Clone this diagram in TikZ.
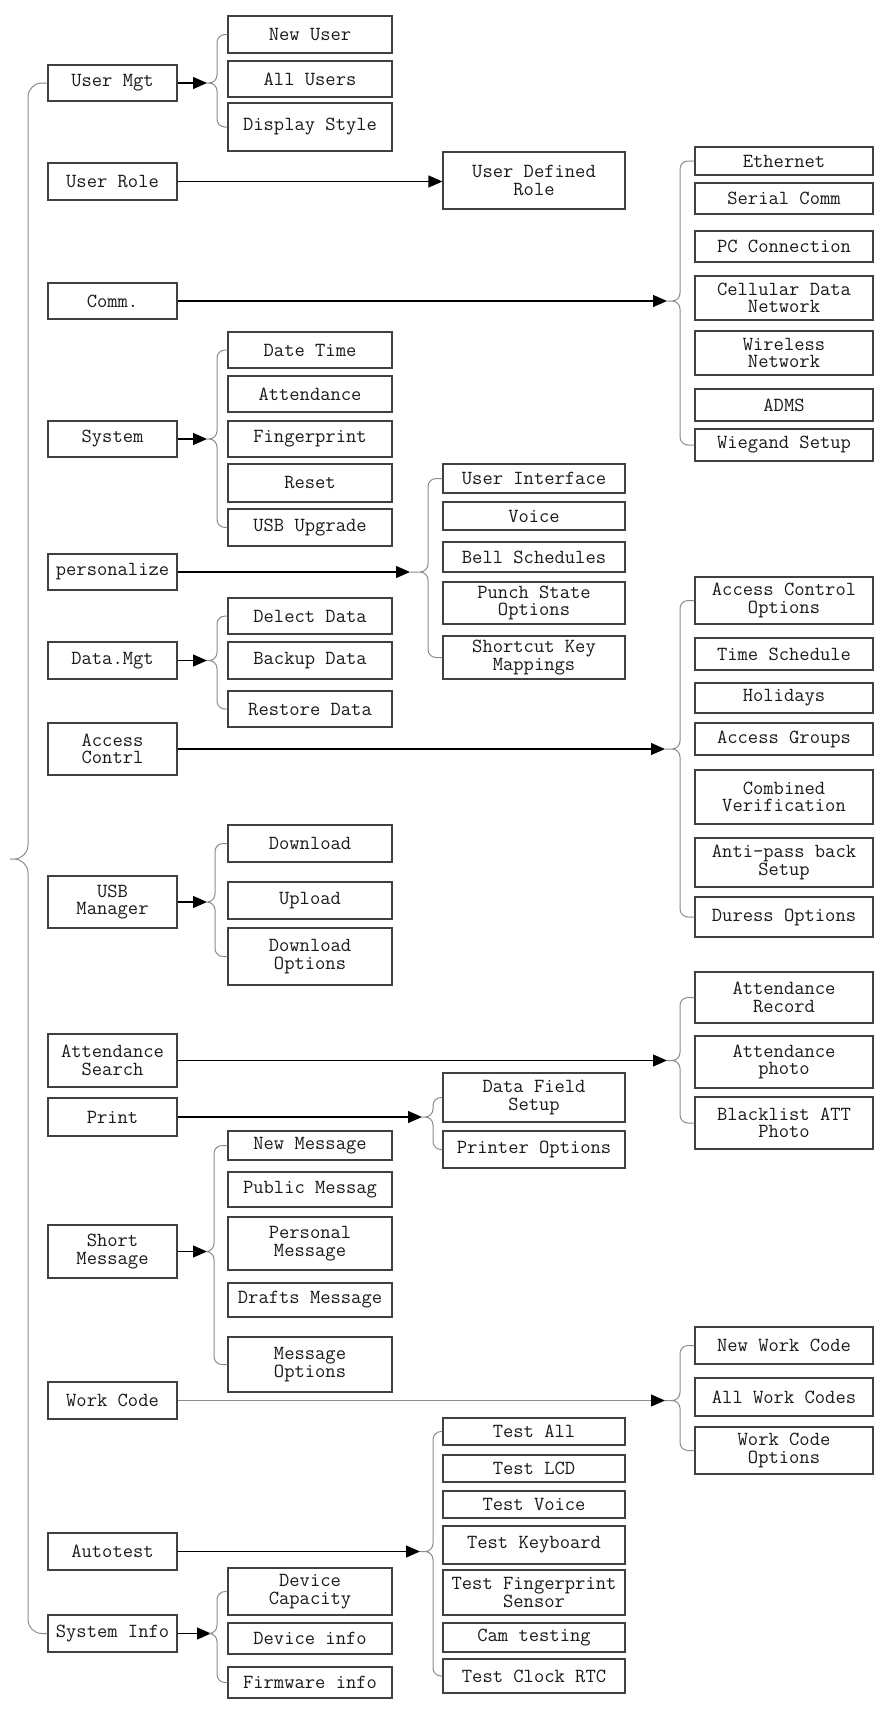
\documentclass[tikz,border=0pt]{standalone}
\usetikzlibrary{arrows.meta}

\begin{document}
\begin{tikzpicture}[x=1pt, y=1pt,
        % Define the styles for the boxes, arrows and braces
        box/.style={draw=black!75, line width=1.2pt, inner sep=0pt, align=center, text=black!90,
            font=\ttfamily\fontsize{20}{17.5}\selectfont},
        main/.style={box, minimum width=129pt, minimum height=#1},
        sub/.style={box, minimum width=164pt, minimum height=#1},
        mid/.style={box, minimum width=182pt, minimum height=#1},
        far/.style={box, minimum width=178pt, minimum height=#1},
        arr/.style={line width=1.2pt, -{Triangle[length=14pt, width=12pt, color=black]}},
        brace/.style={draw=black!45, line width=1pt, rounded corners=8pt}]

        \useasboundingbox (0,0) rectangle (887,-1709);

        % 1. The main menu items
        \node[main=36pt] (um)  at (112.5,-83)    {User Mgt};
        \node[main=37pt] (ur)  at (112.5,-181.5) {User Role};
        \node[main=36pt] (cm)  at (112.5,-301)   {Comm.};
        \node[main=36pt] (sy)  at (112.5,-439)   {System};
        \node[main=36pt] (pz)  at (112.5,-572)   {personalize};
        \node[main=37pt] (dm)  at (112.5,-660.5) {Data.Mgt};
        \node[main=52pt] (ac)  at (112.5,-749)   {Access\\Contrl};
        \node[main=52pt] (usb) at (112.5,-902)   {USB\\Manager};
        \node[main=53pt] (as)  at (112.5,-1060.5) {Attendance\\Search};
        \node[main=38pt] (pr)  at (112.5,-1117)  {Print};
        \node[main=53pt] (smg) at (112.5,-1251.5) {Short\\Message};
        \node[main=37pt] (wc)  at (112.5,-1400.5) {Work Code};
        \node[main=37pt] (at)  at (112.5,-1551.5) {Autotest};
        \node[main=37pt] (si)  at (112.5,-1633.5) {System Info};

        % 2. Sub menus next to the main column
        \node[sub=37pt] (nu)  at (310,-34.5)  {New User};
        \node[sub=36pt] (au)  at (310,-79)    {All Users};
        \node[sub=48pt] (dst) at (310,-127)   {Display Style};

        \node[sub=36pt] (dt)  at (310,-350)   {Date Time};
        \node[sub=36pt] (atd) at (310,-394)   {Attendance};
        \node[sub=36pt] (fp)  at (310,-439)   {Fingerprint};
        \node[sub=38pt] (rs)  at (310,-483)   {Reset};
        \node[sub=37pt] (uu)  at (310,-527.5) {USB Upgrade};

        \node[sub=36pt] (dd)  at (310,-616)   {Delect Data};
        \node[sub=37pt] (bd)  at (310,-660.5) {Backup Data};
        \node[sub=36pt] (rd)  at (310,-709)   {Restore Data};

        \node[sub=37pt] (dl)  at (310,-843.5) {Download};
        \node[sub=37pt] (ul)  at (310,-900.5) {Upload};
        \node[sub=57pt] (dlo) at (310,-956.5) {Download\\Options};

        \node[sub=29pt] (nm)  at (310,-1145.5) {New Message};
        \node[sub=35pt] (pm)  at (310,-1189.5) {Public Messag};
        \node[sub=53pt] (psm) at (310,-1243.5) {Personal\\Message};
        \node[sub=34pt] (dfm) at (310,-1300)   {Drafts Message};
        \node[sub=55pt] (mo)  at (310,-1364.5) {Message\\Options};

        \node[sub=47pt] (dc)  at (310,-1591.5) {Device\\Capacity};
        \node[sub=31pt] (di)  at (310,-1638.5) {Device info};
        \node[sub=31pt] (fi)  at (310,-1682.5) {Firmware info};

        % 3. Sub menus in the middle column
        \node[mid=57pt] (udr) at (534,-180.5) {User Defined\\Role};

        \node[mid=29pt] (ui)  at (534,-478.5) {User Interface};
        \node[mid=28pt] (vc)  at (534,-516)   {Voice};
        \node[mid=30pt] (bs)  at (534,-557)   {Bell Schedules};
        \node[mid=42pt] (pso) at (534,-603)   {Punch State\\Options};
        \node[mid=43pt] (skm) at (534,-657.5) {Shortcut Key\\Mappings};

        \node[mid=49pt] (dfs) at (534,-1097.5) {Data Field\\Setup};
        \node[mid=37pt] (po)  at (534,-1149.5) {Printer Options};

        \node[mid=27pt] (ta)  at (534,-1431.5) {Test All};
        \node[mid=27pt] (tl)  at (534,-1468.5) {Test LCD};
        \node[mid=27pt] (tv)  at (534,-1504.5) {Test Voice};
        \node[mid=38pt] (tk)  at (534,-1545)   {Test Keyboard};
        \node[mid=45pt] (tfs) at (534,-1592.5) {Test Fingerprint\\Sensor};
        \node[mid=29pt] (ct)  at (534,-1637.5) {Cam testing};
        \node[mid=34pt] (tcr) at (534,-1676)   {Test Clock RTC};

        % 4. Sub menus in the far column
        \node[far=28pt] (eth)  at (784,-161)   {Ethernet};
        \node[far=31pt] (sc)   at (784,-198.5) {Serial Comm};
        \node[far=31pt] (pcc)  at (784,-246.5) {PC Connection};
        \node[far=44pt] (cdn)  at (784,-298)   {Cellular Data\\Network};
        \node[far=44pt] (wn)   at (784,-353)   {Wireless\\Network};
        \node[far=32pt] (adms) at (784,-405)   {ADMS};
        \node[far=32pt] (ws)   at (784,-445)   {Wiegand Setup};

        \node[far=47pt] (aco) at (784,-600.5) {Access Control\\Options};
        \node[far=32pt] (tsc) at (784,-654)   {Time Schedule};
        \node[far=30pt] (hol) at (784,-698)   {Holidays};
        \node[far=32pt] (ag)  at (784,-739)   {Access Groups};
        \node[far=54pt] (cv)  at (784,-797)   {Combined\\Verification};
        \node[far=49pt] (apb) at (784,-862.5) {Anti-pass back\\Setup};
        \node[far=40pt] (duo) at (784,-917)   {Duress Options};

        \node[far=51pt] (ar)  at (784,-997.5) {Attendance\\Record};
        \node[far=52pt] (ap)  at (784,-1062)  {Attendance\\photo};
        \node[far=52pt] (bap) at (784,-1123)  {Blacklist ATT\\Photo};

        \node[far=37pt] (nwc) at (784,-1345.5) {New Work Code};
        \node[far=38pt] (awc) at (784,-1397)   {All Work Codes};
        \node[far=47pt] (wco) at (784,-1450.5) {Work Code\\Options};

        % 5. Tips of the braces
        \coordinate (bigT) at (10,-859);
        \coordinate (umT)  at (207,-83);
        \coordinate (cmT)  at (667,-301);
        \coordinate (syT)  at (207,-439);
        \coordinate (pzT)  at (410,-572);
        \coordinate (dmT)  at (207,-660.5);
        \coordinate (acT)  at (665,-749);
        \coordinate (usbT) at (207,-902);
        \coordinate (asT)  at (667,-1060.5);
        \coordinate (prT)  at (422,-1117);
        \coordinate (smgT) at (207,-1251.5);
        \coordinate (wcT)  at (665,-1400.5);
        \coordinate (atT)  at (420,-1551.5);
        \coordinate (siT)  at (211,-1633.5);

        % 6. Arrows from the main items
        \foreach \src/\tip in {um/umT, cm/cmT, sy/syT, pz/pzT, dm/dmT, ac/acT, usb/usbT,
                as/asT, pr/prT, smg/smgT, at/atT, si/siT}
            \draw[arr] (\src) -- (\tip);
        \draw[arr, draw=black!45] (wc) -- (wcT);
        \draw[arr] (ur.east) -- (ur.east -| udr.west);

        % 7. The braces
        \draw[brace, rounded corners=14pt] (um.west) -| ([xshift=18pt]bigT) -- (bigT)
            (si.west) -| ([xshift=18pt]bigT) -- (bigT);
        \foreach \tip/\first/\last/\d in {umT/nu/dst/10, cmT/eth/ws/13, syT/dt/uu/10,
                pzT/ui/skm/18, dmT/dd/rd/10, acT/aco/duo/15, usbT/dl/dlo/8, asT/ar/bap/13,
                prT/dfs/po/11, smgT/nm/mo/7, wcT/nwc/wco/15, atT/ta/tcr/13, siT/dc/fi/6}
            \draw[brace] (\first.west) -| ([xshift=\d pt]\tip) -- (\tip)
                (\last.west) -| ([xshift=\d pt]\tip) -- (\tip);
    \end{tikzpicture}
\end{document}
